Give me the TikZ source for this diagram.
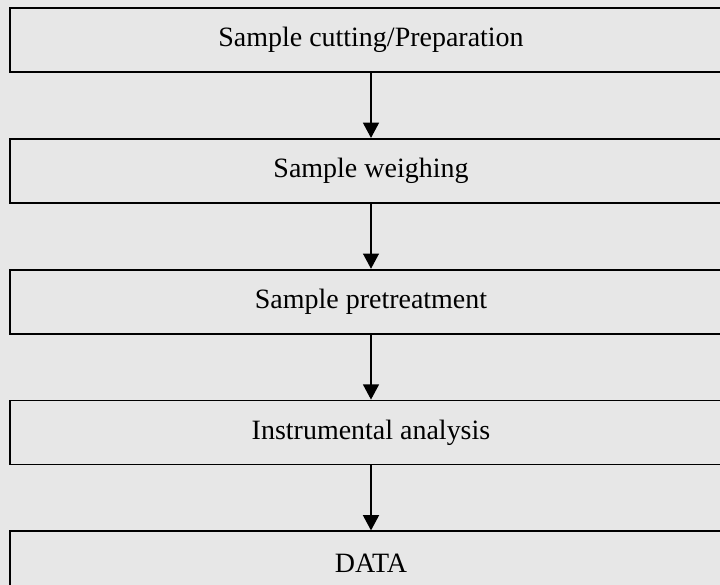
\documentclass[tikz,border=0pt]{standalone}
\usepackage{fontspec}
\setmainfont{Liberation Serif}
\usetikzlibrary{positioning,arrows.meta}
\definecolor{waltekgray}{RGB}{231,231,231}

\begin{document}
\begin{tikzpicture}[
  stepbox/.style={draw, line width=1.3pt, minimum width=18.05cm, minimum height=1.6cm,
    inner sep=0pt, font=\fontsize{19.9}{24}\selectfont},
  flow/.style={-{Triangle[length=0.38cm,width=0.4cm]}, line width=0.9pt},
  node distance=1.625cm
]
  % Background
  \fill[waltekgray] (0,0) rectangle (18,-14.625);
  \useasboundingbox (0,0) rectangle (18,-14.625);
  \clip (0,0) rectangle (18,-14.625);

  % Steps
  \node[stepbox] (cut) at (9.275,-1.0) {Sample cutting/Preparation};
  \node[stepbox, below=of cut] (weigh) {Sample weighing};
  \node[stepbox, below=of weigh] (pretreat) {Sample pretreatment};
  \node[stepbox, below=of pretreat] (analysis) {Instrumental analysis};
  \node[stepbox, below=of analysis] (data) {DATA};

  % Arrows
  \draw[flow] (cut) -- (weigh);
  \draw[flow] (weigh) -- (pretreat);
  \draw[flow] (pretreat) -- (analysis);
  \draw[flow] (analysis) -- (data);
\end{tikzpicture}
\end{document}
